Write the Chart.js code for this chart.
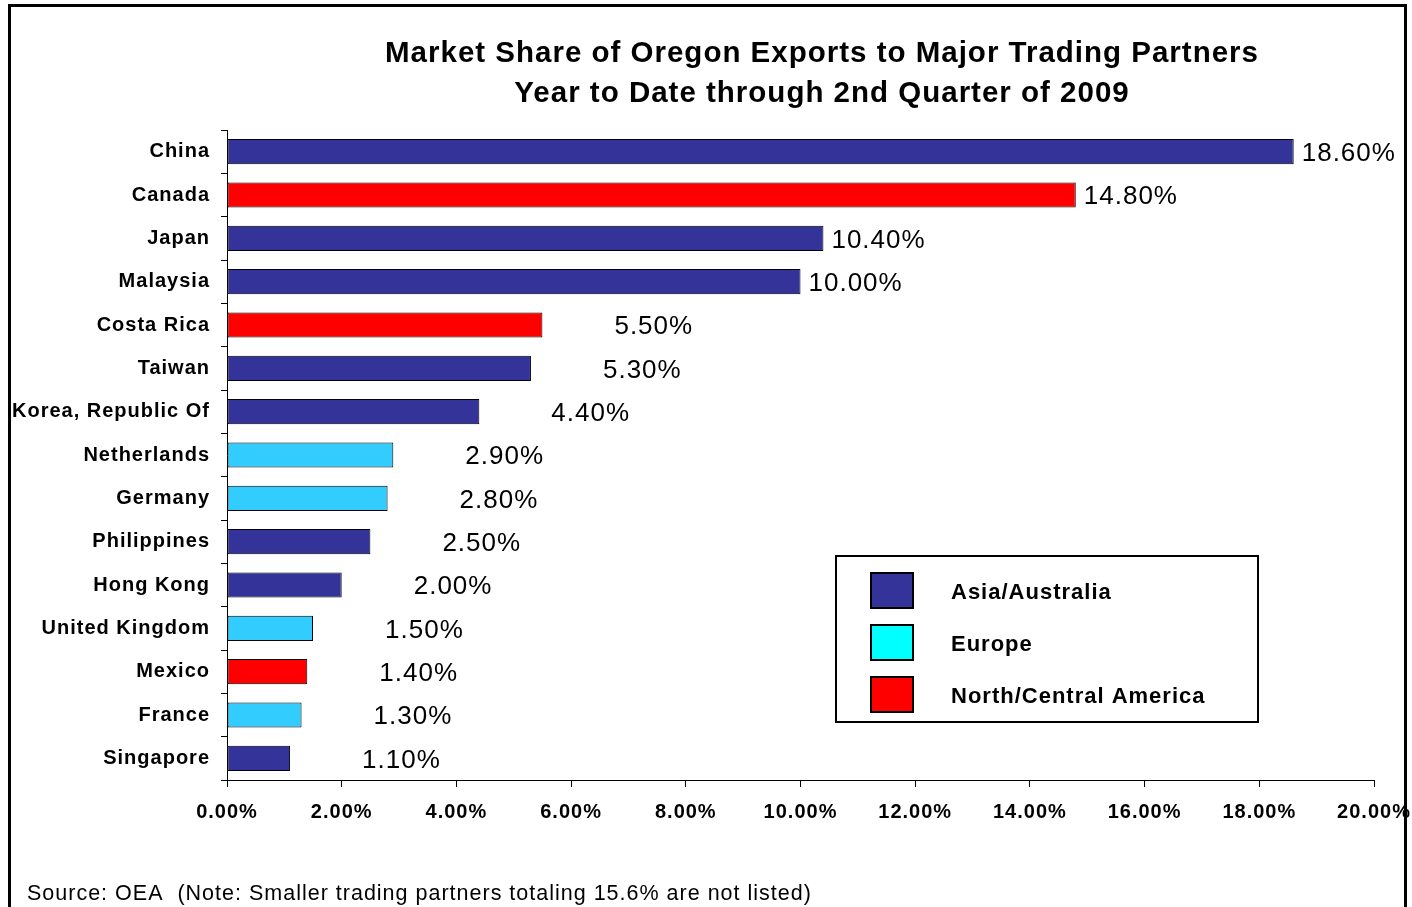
<!DOCTYPE html>
<html>
<head>
<meta charset="utf-8">
<script src="https://cdn.jsdelivr.net/npm/chart.js@4"></script>
<style>
  html, body { margin: 0; background: #fff; }
</style>
</head>
<body>
<canvas id="chart" width="1412" height="907"></canvas>
<script>
// ----------- Data -----------
const countries = ['China', 'Canada', 'Japan', 'Malaysia', 'Costa Rica', 'Taiwan', 'Korea, Republic Of',
    'Netherlands', 'Germany', 'Philippines', 'Hong Kong', 'United Kingdom', 'Mexico', 'France', 'Singapore'];
const shares = [18.6, 14.8, 10.4, 10.0, 5.5, 5.3, 4.4, 2.9, 2.8, 2.5, 2.0, 1.5, 1.4, 1.3, 1.1];
const regionOf = ['asia', 'america', 'asia', 'asia', 'america', 'asia', 'asia',
    'europe', 'europe', 'asia', 'asia', 'europe', 'america', 'europe', 'asia'];
const regionKeys = ['asia', 'europe', 'america'];
const regionNames = ['Asia/Australia', 'Europe', 'North/Central America'];
const titleLines = ['Market Share of Oregon Exports to Major Trading Partners', 'Year to Date through 2nd Quarter of 2009'];
const footNote = 'Source: OEA  (Note: Smaller trading partners totaling 15.6% are not listed)';

// colours
const barColors = { asia: '#333399', europe: '#33CCFF', america: '#FF0000' };
const swatchColors = { asia: '#333399', europe: '#00FFFF', america: '#FF0000' };
const FONT = "'Liberation Sans', Arial, sans-serif";

// ----------- Plugins -----------
// the original text is a bit wider than Arial, so space the letters a little
function spacing(chart) { if ('letterSpacing' in chart.ctx) chart.ctx.letterSpacing = '1px'; }

const frame = {
    id: 'frame',
    beforeUpdate: spacing,
    beforeDraw(chart) {
        spacing(chart);
        const ctx = chart.ctx;
        ctx.save();
        ctx.fillStyle = '#fff';
        ctx.fillRect(0, 0, chart.width, chart.height);
        ctx.strokeStyle = '#000';
        ctx.lineWidth = 3;
        ctx.strokeRect(9.5, 5.5, 1396, 1000);
        ctx.restore();
    }
};

// title sits right of centre, the source note is indented
const blockShift = {
    id: 'blockShift',
    afterLayout(chart) {
        if (chart.titleBlock) { chart.titleBlock.left += 135; chart.titleBlock.right += 135; }
        const note = chart.boxes.find(b => b !== chart.titleBlock && b.options && b.options.text === footNote);
        if (note) { note.left += 27; note.right += 27; }
    }
};

const valueLabels = {
    id: 'valueLabels',
    afterDatasetsDraw(chart) {
        const ctx = chart.ctx;
        const meta = chart.getDatasetMeta(0);
        ctx.save();
        ctx.font = '26px ' + FONT;
        ctx.fillStyle = '#000';
        ctx.textBaseline = 'middle';
        ctx.textAlign = 'left';
        meta.data.forEach((bar, i) => {
            const gap = shares[i] >= 10 ? 8 : 72;
            ctx.fillText(shares[i].toFixed(2) + '%', bar.x + gap, bar.y + 2);
        });
        ctx.restore();
    }
};

const regionLegend = {
    id: 'regionLegend',
    afterDraw(chart) {
        const ctx = chart.ctx;
        const ca = chart.chartArea;
        const bx = ca.right - 538, by = ca.bottom - 224, bw = 422, bh = 166;
        ctx.save();
        ctx.fillStyle = '#fff';
        ctx.fillRect(bx, by, bw, bh);
        ctx.strokeStyle = '#000';
        ctx.lineWidth = 2;
        ctx.strokeRect(bx, by, bw, bh);
        ctx.font = 'bold 22px ' + FONT;
        ctx.textBaseline = 'middle';
        regionKeys.forEach((k, i) => {
            const cy = by + 34 + i * 52;
            ctx.fillStyle = swatchColors[k];
            ctx.fillRect(bx + 35, cy - 17, 42, 35);
            ctx.strokeRect(bx + 35, cy - 17, 42, 35);
            ctx.fillStyle = '#000';
            ctx.fillText(regionNames[i], bx + 115, cy + 3);
        });
        ctx.restore();
    }
};

// ----------- Chart -----------
new Chart(document.getElementById('chart'), {
    type: 'bar',
    data: {
        labels: countries,
        datasets: [{
            data: shares,
            backgroundColor: regionOf.map(r => barColors[r]),
            borderColor: '#000',
            borderWidth: 1,
            borderSkipped: false,
            barPercentage: 0.58,
            categoryPercentage: 1
        }]
    },
    options: {
        indexAxis: 'y',
        responsive: false,
        animation: false,
        devicePixelRatio: 1,
        layout: { padding: { left: 0, right: 38, top: 0, bottom: 0 } },
        plugins: {
            legend: { display: false },
            tooltip: { enabled: false },
            title: {
                display: true,
                text: titleLines,
                color: '#000',
                font: { family: FONT, size: 29.5, weight: 'bold', lineHeight: 40 / 29.5 },
                padding: { top: 34, bottom: 16 }
            },
            subtitle: {
                display: true,
                position: 'bottom',
                align: 'start',
                text: footNote,
                color: '#000',
                font: { family: FONT, size: 21.5, weight: 'normal', lineHeight: 1.2 },
                padding: { top: 41.2, bottom: 0 }
            }
        },
        scales: {
            y: {
                offset: true,
                grid: { display: true, drawOnChartArea: false, drawTicks: true, tickLength: 6, color: '#000', offset: true },
                border: { display: true, color: '#000', width: 1 },
                ticks: { color: '#000', font: { family: FONT, size: 20, weight: 'bold' }, padding: 11, autoSkip: false },
                afterFit(s) { s.width = 227; }
            },
            x: {
                min: 0,
                max: 20,
                grid: { display: true, drawOnChartArea: false, drawTicks: true, tickLength: 7, color: '#000' },
                border: { display: true, color: '#000', width: 1 },
                ticks: {
                    stepSize: 2,
                    color: '#000',
                    font: { family: FONT, size: 20, weight: 'bold' },
                    padding: 13,
                    maxRotation: 0,
                    autoSkip: false,
                    callback: v => v.toFixed(2) + '%'
                },
                afterFit(s) { s.height = 60; s.paddingLeft = 0; s.paddingRight = 0; }
            }
        }
    },
    plugins: [frame, blockShift, valueLabels, regionLegend]
});
</script>
</body>
</html>
